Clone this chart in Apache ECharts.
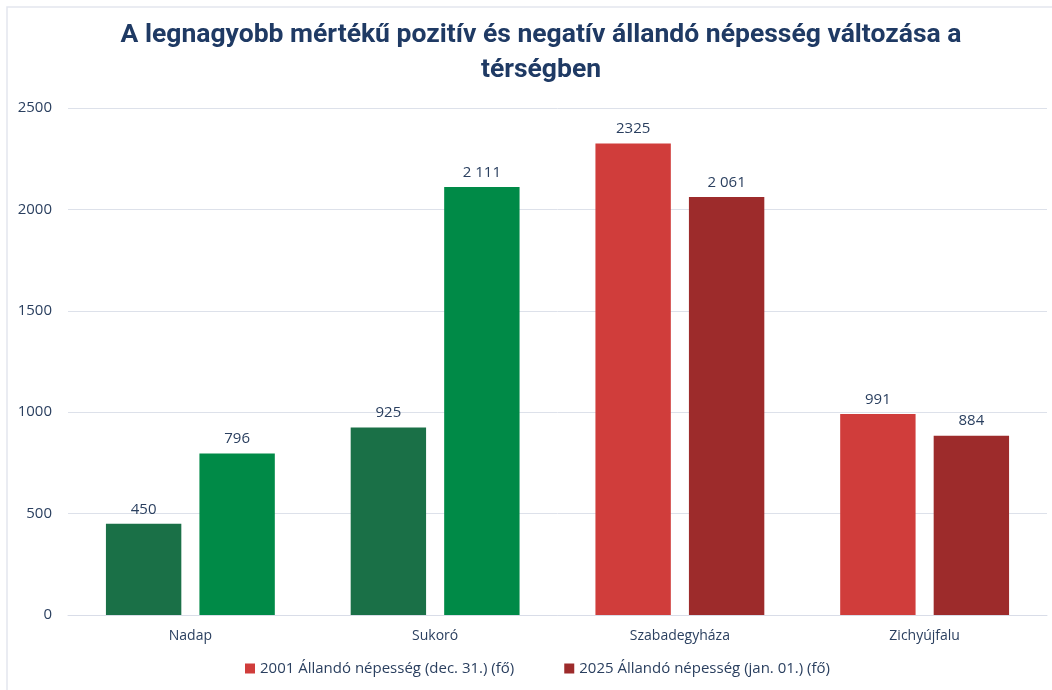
<!DOCTYPE html>
<html>
<head>
<meta charset="utf-8">
<script src="https://cdn.jsdelivr.net/npm/echarts@6/dist/echarts.min.js"></script>
<style>
  html, body { margin: 0; padding: 0; background: #fff; }
  #chart { width: 1052px; height: 690px; }
</style>
</head>
<body>
<div id="chart"></div>
<script>
// adatok
var categories = ['Nadap', 'Sukoró', 'Szabadegyháza', 'Zichyújfalu']
var seriesNames = ['2001 Állandó népesség (dec. 31.) (fő)', '2025 Állandó népesség (jan. 01.) (fő)']
var values2001 = [450, 925, 2325, 991]
var values2025 = [796, 2111, 2061, 884]
var labels2001 = ['450', '925', '2325', '991']
var labels2025 = ['796', '2 111', '2 061', '884']
var yTicks = [0, 500, 1000, 1500, 2000, 2500]

// színek: pozitív változás zöld, negatív piros
var colors2001 = ['#1a7047', '#1a7047', '#d03d3b', '#d03d3b']
var colors2025 = ['#008a47', '#008a47', '#9d2b2b', '#9d2b2b']

var font = 'Open Sans, Noto Sans, sans-serif'
var textColor = '#2a3f5f'

function buildData(values, colors, labels) {
    return values.map(function(v, i) {
        return {
            value: v,
            itemStyle: { color: colors[i] },
            label: { formatter: labels[i] }
        }
    })
}

var chart = echarts.init(document.getElementById('chart'))
var options = {
    animation: false,
    title: {
        text: 'A legnagyobb mértékű pozitív és negatív állandó népesség változása a\ntérségben',
        left: 536,
        textAlign: 'center',
        top: 13,
        textStyle: {
            fontFamily: 'Roboto, sans-serif',
            fontWeight: 'bold',
            fontSize: 26.5,
            lineHeight: 35,
            color: '#1f3a64'
        }
    },
    graphic: [{
        type: 'rect',
        shape: { x: 7, y: 7, width: 1100, height: 750 },
        style: { fill: 'none', stroke: '#e3e6ee', lineWidth: 1.5 },
        silent: true
    }],
    grid: {
        left: 68,
        right: 5,
        top: 108,
        bottom: 75,
        containLabel: false
    },
    legend: {
        bottom: 9,
        left: 240,
        itemWidth: 10,
        itemHeight: 10,
        itemGap: 50,
        icon: 'rect',
        textStyle: { fontFamily: font, fontSize: 15, color: textColor },
        data: [
            { name: seriesNames[0], itemStyle: { color: '#d03d3b' } },
            { name: seriesNames[1], itemStyle: { color: '#9d2b2b' } }
        ]
    },
    xAxis: {
        type: 'category',
        data: categories,
        axisTick: { show: false },
        axisLine: { lineStyle: { color: '#d9dde8', width: 1 } },
        axisLabel: { fontFamily: font, fontSize: 14, color: textColor, margin: 14 }
    },
    yAxis: {
        type: 'value',
        min: yTicks[0],
        max: yTicks[yTicks.length - 1],
        interval: 500,
        axisLine: { show: false },
        axisTick: { show: false },
        splitLine: { lineStyle: { color: '#dde1ea', width: 1 } },
        axisLabel: {
            fontFamily: font, fontSize: 15, color: textColor, margin: 16,
            formatter: function(v) { return String(v) }
        }
    },
    series: [{
        name: seriesNames[0],
        type: 'bar',
        color: '#d03d3b',
        barGap: '24%',
        barCategoryGap: '31%',
        data: buildData(values2001, colors2001, labels2001),
        label: { show: true, position: 'top', distance: 7, fontFamily: font, fontSize: 15, color: textColor }
    }, {
        name: seriesNames[1],
        type: 'bar',
        color: '#9d2b2b',
        data: buildData(values2025, colors2025, labels2025),
        label: { show: true, position: 'top', distance: 7, fontFamily: font, fontSize: 15, color: textColor }
    }]
}
chart.setOption(options)
</script>
</body>
</html>
